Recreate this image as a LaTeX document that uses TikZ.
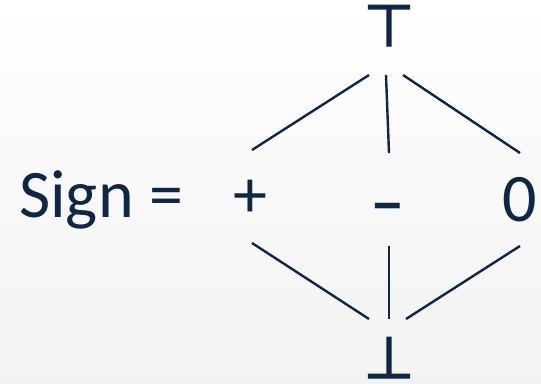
\documentclass[tikz,border=0pt]{standalone}
\usepackage{fontspec}
\setmainfont{Carlito}
\newfontfamily\symfont[FakeBold=2.5]{DejaVu Sans}
\definecolor{navy}{RGB}{15,39,68}
\begin{document}
\begin{tikzpicture}[x=1pt,y=-1pt,
  lbl/.style={text=navy,inner sep=0pt,font=\fontsize{68}{68}\selectfont,anchor=base},
  sym/.style={text=navy,inner sep=0pt,text depth=0pt,font=\symfont\fontsize{58}{58}\selectfont,anchor=base},
  edge/.style={draw=navy,line width=2.4pt}]
\shade[top color=white,bottom color=black!5] (0,0) rectangle (541,383);
\useasboundingbox (0,0) rectangle (541,383);
\node[lbl,anchor=base west] (sign) at (19,217) {Sign =};
\node[lbl] (plus) at (250,217) {+};
\node[lbl,font=\fontsize{76}{76}\selectfont,xscale=1.4] (minus) at (388,227) {-};
\node[lbl] (zero) at (520,221) {0};
\node[sym] (top) at (389,46) {⊤};
\node[sym] (bot) at (389,378) {⊥};
\coordinate (t1) at (369,75);
\coordinate (t2) at (386,75);
\coordinate (t3) at (403,75);
\coordinate (p1) at (252,150);
\coordinate (m1) at (389,153);
\coordinate (z1) at (520,153);
\coordinate (p2) at (252,243);
\coordinate (m2) at (389,246);
\coordinate (z2) at (520,246);
\coordinate (b1) at (369,319);
\coordinate (b2) at (389,319);
\coordinate (b3) at (406,319);
\draw[edge] (t1) -- (p1);
\draw[edge] (t2) -- (m1);
\draw[edge] (t3) -- (z1);
\draw[edge] (p2) -- (b1);
\draw[edge] (m2) -- (b2);
\draw[edge] (z2) -- (b3);
\end{tikzpicture}
\end{document}
